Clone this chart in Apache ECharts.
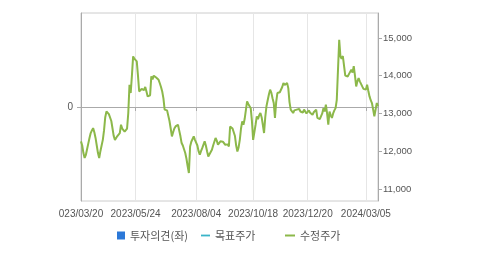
<!DOCTYPE html>
<html><head><meta charset="utf-8">
<script src="https://cdn.jsdelivr.net/npm/echarts@6/dist/echarts.min.js"></script>
<style>html,body{margin:0;padding:0;background:#fff}#c{width:479px;height:254px}</style>
</head><body><div id="c"></div>
<script>
// Adjusted close (수정주가), one value per trading day from 2023/03/20
const prices = [
12260,12150,11950,11820,11900,12050,12200,12350,12480,12550,
12610,12500,12350,12150,11950,11820,12000,12150,12300,12550,
12900,13050,13030,12980,13000,12800,12600,12400,12300,12350,
12400,12450,12480,12700,12600,12550,12520,12480,12600,13010,
13760,13540,14000,14510,14450,14400,14380,14000,13580,13620,
13650,13670,13620,13700,13580,13450,13500,13480,13980,13900,
14000,14030,13950,13980,13890,13800,13700,13580,13400,13100,
13150,13080,13050,12800,12600,12390,12500,12600,12655,12620,
12700,12550,12400,12215,12150,12050,11950,11800,11600,11420,
12125,12250,12300,12390,12300,12260,12150,12000,11905,12000,
12080,12125,12260,12150,12000,11860,11900,11980,12040,12150,
12250,12350,12280,12170,12220,12260,12300,12250,12200,12170,
12220,12180,12125,12655,12620,12600,12570,12400,12150,11990,
12100,12300,12600,12790,12700,12850,12880,13320,13250,13200,
13140,12800,12300,12500,12700,12920,12850,12950,13010,12900,
12700,12480,12900,13190,13350,13500,13630,13550,13400,13275,
12880,13300,13540,13520,13560,13580,13700,13805,13750,13780,
13805,13670,13300,13100,13050,13010,13080,13120,13100,13050,
13120,13050,13080,13020,13100,13060,13000,13010,13080,13020,
13060,12965,13030,13080,13100,12880,12900,12850,12830,13000,
13140,13050,13230,13000,12700,13050,12950,12880,13000,13080,
13140,13360,13400,14950,14510,14450,14520,14510,14000,14050,
13980,14030,14100,14160,14080,14250,14000,13715,13850,13935,
13850,13800,13715,13650,13600,13630,13760,13600,13450,13350,
13275,13100,12920,13100,13275,13190
];
const opinion = [];      // 투자의견(좌): no data shown
const targetPrice = [];  // 목표주가: no data shown
const startDate = '2023-03-20';
const holidays = ['2023-05-01','2023-05-05','2023-05-29','2023-06-06','2023-08-15','2023-09-28','2023-09-29','2023-10-02','2023-10-03','2023-10-09','2023-12-25','2023-12-29','2024-01-01','2024-02-09','2024-02-12','2024-03-01'];
const tickDates = ['2023/03/20','2023/05/24','2023/08/04','2023/10/18','2023/12/20','2024/03/05'];
const tickTexts = ['023/03/20','2023/05/24','2023/08/04','2023/10/18','2023/12/20','2024/03/05'];
const rightTicks = [11000,12000,13000,14000,15000];

// trading-day categories
const dates = [];
{
  let d = new Date(startDate + 'T00:00:00Z');
  while (dates.length < prices.length) {
    const iso = d.toISOString().slice(0,10);
    const wd = d.getUTCDay();
    if (wd !== 0 && wd !== 6 && holidays.indexOf(iso) < 0) dates.push(iso.replace(/-/g,'/'));
    d = new Date(d.getTime() + 86400000);
  }
}
const isTick = (i, v) => tickDates.indexOf(v) >= 0;
const fmtNum = v => String(v).replace(/\B(?=(\d{3})+(?!\d))/g, ',');
const FONT = "'Liberation Sans',Arial,sans-serif";
const KFONT = "'Noto Sans CJK KR','Noto Sans',sans-serif";
const LINE_ICON = 'path://M0,0 L10,0 L10,2 L0,2 Z';
const legTxt = {fontFamily: KFONT, fontSize: 11, color: '#555'};

const chart = echarts.init(document.getElementById('c'), null, {renderer:'canvas'});
chart.setOption({
  animation: false,
  grid: {left: 81, right: 101, top: 13, bottom: 53, show: true, borderColor: '#cccccc', borderWidth: 1, backgroundColor: 'transparent'},
  legend: [
    {left: 117, top: 230, padding: 0, itemWidth: 8, itemHeight: 8, textStyle: legTxt, data: [{name: '투자의견(좌)', icon: 'rect'}]},
    {left: 201, top: 230, padding: 0, itemWidth: 9, itemHeight: 8, textStyle: legTxt, data: [{name: '목표주가', icon: LINE_ICON}]},
    {left: 285, top: 230, padding: 0, itemWidth: 10, itemHeight: 8, textStyle: legTxt, data: [{name: '수정주가', icon: LINE_ICON}]}
  ],
  xAxis: {
    type: 'category', data: dates, boundaryGap: false,
    axisLine: {lineStyle: {color: '#aaaaaa'}},
    axisTick: {show: true, interval: isTick, length: 4, lineStyle: {color: '#aaaaaa'}},
    splitLine: {show: true, interval: isTick, lineStyle: {color: '#e6e6e6'}},
    axisLabel: {interval: isTick, margin: 8, fontFamily: FONT, fontSize: 10, color: '#555', hideOverlap: false,
      formatter: v => { const k = tickDates.indexOf(v); return k >= 0 ? tickTexts[k] : ''; }}
  },
  yAxis: [
    {type: 'value', position: 'left', min: -1, max: 1, interval: 1,
     axisLine: {show: true, lineStyle: {color: '#aaaaaa'}},
     axisTick: {show: true, length: 4, customValues: [0], lineStyle: {color: '#aaaaaa'}},
     axisLabel: {customValues: [0], fontFamily: FONT, fontSize: 10, color: '#555', margin: 8},
     splitLine: {show: true, lineStyle: {color: '#e6e6e6'}}},
    {type: 'value', position: 'right', min: 10680, max: 15660,
     axisLine: {show: true, lineStyle: {color: '#aaaaaa'}},
     axisTick: {show: true, length: 4, customValues: rightTicks, lineStyle: {color: '#aaaaaa'}},
     axisLabel: {customValues: rightTicks, formatter: fmtNum, fontFamily: FONT, fontSize: 9.5, color: '#555', margin: 5},
     splitLine: {show: false}}
  ],
  series: [
    {name: '투자의견(좌)', type: 'bar', yAxisIndex: 0, data: opinion, itemStyle: {color: '#2b78d8'}},
    {name: '목표주가', type: 'line', yAxisIndex: 1, data: targetPrice, symbol: 'none', lineStyle: {width: 2, color: '#3ab4c8'}, itemStyle: {color: '#3ab4c8'}},
    {name: '수정주가', type: 'line', yAxisIndex: 1, data: prices, symbol: 'none', lineStyle: {width: 2, color: '#8cb84a'}, itemStyle: {color: '#8cb84a'}}
  ]
});
</script></body></html>
